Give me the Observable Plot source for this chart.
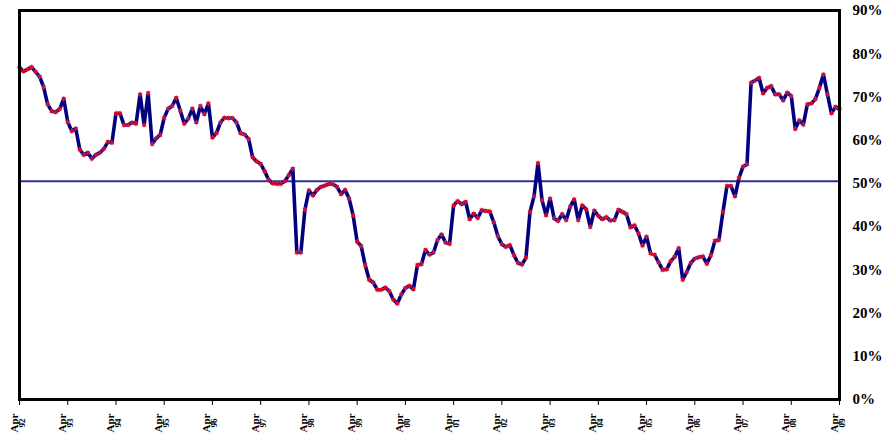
<!DOCTYPE html>
<html><head><meta charset="utf-8">
<script src="https://cdn.jsdelivr.net/npm/d3@7"></script>
<script src="https://cdn.jsdelivr.net/npm/@observablehq/plot@0.6"></script>
<style>html,body{margin:0;padding:0;background:#fff} svg{display:block}</style>
</head><body><div id="chart"></div>
<script>
// Monthly share (%), Apr 1992 onward
const values = [
76.8, 75.9, 76.4, 76.9, 75.8, 74.7, 72.3, 68.3, 66.7, 66.5, 67.2, 69.6,
64.2, 62.1, 62.7, 57.8, 56.6, 57.1, 55.7, 56.6, 57.1, 58.0, 59.6, 59.4,
66.2, 66.2, 63.5, 63.5, 64.1, 63.8, 70.6, 63.5, 70.9, 59.1, 60.4, 61.2,
65.2, 67.3, 67.9, 69.8, 66.8, 63.8, 65.0, 67.3, 64.1, 67.9, 66.0, 68.5,
60.6, 61.6, 64.1, 65.2, 65.1, 65.1, 64.1, 61.6, 61.3, 60.3, 56.0, 55.1,
54.5, 52.8, 50.8, 50.0, 49.9, 49.9, 50.5, 51.9, 53.4, 34.0, 34.0, 43.9,
48.4, 47.2, 48.5, 49.2, 49.5, 49.9, 49.8, 49.2, 47.5, 48.5, 46.5, 42.6,
36.5, 35.5, 31.1, 27.7, 27.1, 25.4, 25.4, 25.9, 25.1, 23.1, 22.2, 24.3,
25.8, 26.3, 25.5, 31.1, 31.3, 34.6, 33.5, 34.0, 36.9, 38.2, 36.3, 36.0,
44.9, 45.9, 45.2, 45.7, 41.7, 43.0, 42.0, 43.8, 43.6, 43.5, 41.0, 37.8,
35.9, 35.3, 35.7, 33.4, 31.6, 31.2, 32.8, 43.4, 47.0, 54.7, 46.1, 42.6,
46.5, 41.9, 41.3, 42.9, 41.5, 44.6, 46.3, 41.5, 44.9, 44.0, 39.9, 43.7,
42.5, 41.7, 42.2, 41.4, 41.5, 43.9, 43.4, 42.9, 39.8, 40.3, 38.4, 35.6,
37.7, 33.8, 33.5, 31.7, 30.0, 30.1, 32.0, 33.0, 35.0, 27.7, 29.5, 31.6,
32.6, 32.9, 33.1, 31.4, 33.4, 36.7, 36.9, 43.4, 49.4, 49.4, 47.0, 51.3,
53.9, 54.4, 73.3, 73.8, 74.4, 70.8, 72.1, 72.5, 70.6, 70.6, 69.2, 71.0,
70.2, 62.6, 64.6, 63.6, 68.3, 68.5, 69.5, 72.1, 75.2, 70.6, 66.2, 67.7,
67.2
];
const tickMonth = "Apr";
const tickYears = ["92","93","94","95","96","97","98","99","00","01","02","03","04","05","06","07","08","09"];
const refLevel = 50.5;
const yTicks = [0,10,20,30,40,50,60,70,80,90];

const data = values.map((v, i) => ({i, v}));
const ticks = tickYears.map((y, k) => ({i: k * 12, year: y}));

const font = "'Liberation Serif', 'Times New Roman', serif";
const chart = Plot.plot({
  width: 885, height: 448,
  marginLeft: 19, marginRight: 46, marginTop: 10, marginBottom: 49,
  style: {fontFamily: font, fontSize: "15px", fontWeight: "bold", background: "white", color: "black"},
  x: {domain: [0, values.length - 1], axis: "bottom", ticks: ticks.map(d => d.i), tickFormat: () => "", tickSize: 6, label: null},
  y: {domain: [0, 90], axis: "right", ticks: yTicks, tickFormat: d => d + "%", tickSize: 0, tickPadding: 13, label: null},
  marks: [
    Plot.ruleY([refLevel], {stroke: "#2e3192", strokeWidth: 2}),
    Plot.line(data, {x: "i", y: "v", stroke: "#000080", strokeWidth: 3.6, strokeLinejoin: "round"}),
    Plot.dot(data, {x: "i", y: "v", symbol: "asterisk", r: 2.6, stroke: "#ff5068", strokeWidth: 1, strokeOpacity: 0.75}),
    Plot.dot(data, {x: "i", y: "v", symbol: "times", r: 1.4, stroke: "#e0001c", strokeWidth: 1.3}),
    Plot.frame({stroke: "black", strokeWidth: 3}),
    Plot.text(ticks, {x: "i", frameAnchor: "bottom", text: () => tickMonth, rotate: -90, textAnchor: "end", dy: 14, dx: -2, fontSize: 11, fontWeight: "bold", ariaLabel: "month-label"}),
    Plot.text(ticks, {x: "i", frameAnchor: "bottom", text: "year", rotate: -90, textAnchor: "end", dy: 19, dx: 5, fontSize: 9, fontWeight: "bold", ariaLabel: "year-label"})
  ]
});
document.getElementById("chart").appendChild(chart);
d3.select(chart).selectAll('g[aria-label="month-label"] text')
  .attr("textLength", 31).attr("lengthAdjust", "spacingAndGlyphs");
</script>
</body></html>
